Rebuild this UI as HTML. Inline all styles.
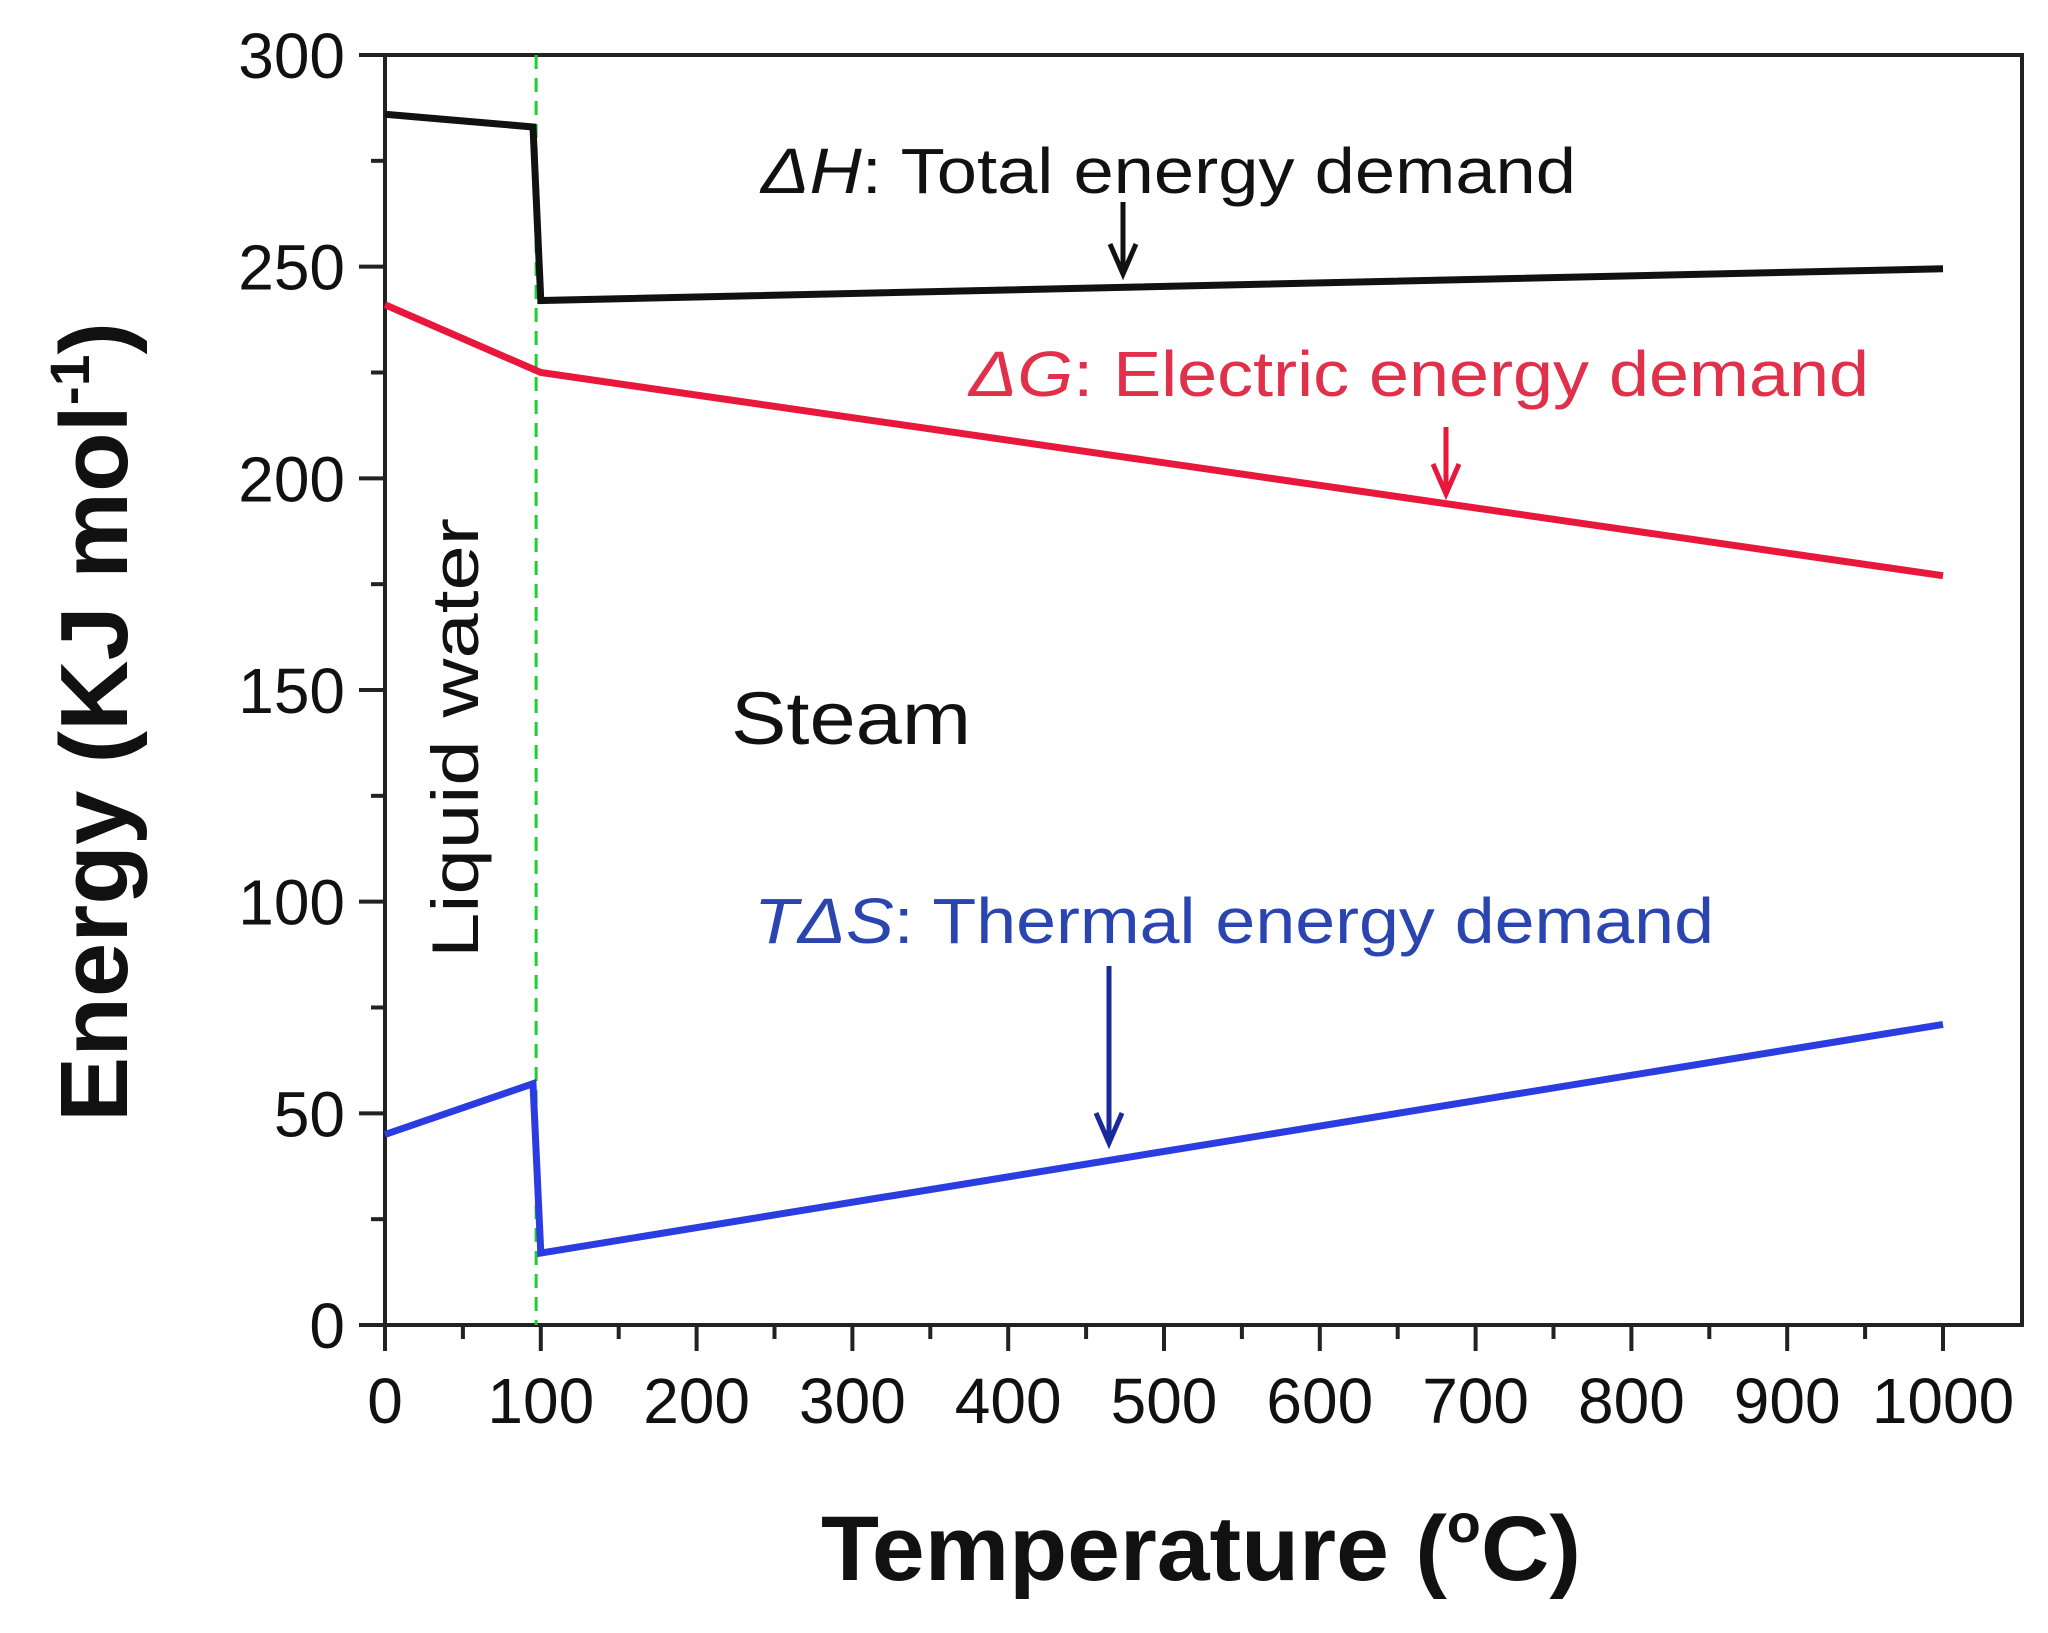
<!DOCTYPE html>
<html><head><meta charset="utf-8"><style>
html,body{margin:0;padding:0;background:#fff;}
svg{display:block;}
text{font-family:"Liberation Sans",sans-serif;}
</style></head><body>
<svg id="chart" width="2048" height="1633" viewBox="0 0 2048 1633" xmlns="http://www.w3.org/2000/svg">
<rect width="2048" height="1633" fill="#fff"/>
<g id="grid-layer"></g>
<text x="761" y="193" font-size="64" fill="#111" textLength="815" lengthAdjust="spacingAndGlyphs"><tspan font-style="italic">ΔH</tspan>: Total energy demand</text>
<text x="969" y="396" font-size="64" fill="#e0304a" textLength="900" lengthAdjust="spacingAndGlyphs"><tspan font-style="italic">ΔG</tspan>: Electric energy demand</text>
<text x="754" y="943" font-size="64" fill="#2a44b0" textLength="960" lengthAdjust="spacingAndGlyphs"><tspan font-style="italic">TΔS</tspan>: Thermal energy demand</text>
<text x="731" y="744" font-size="74" fill="#111" textLength="240" lengthAdjust="spacingAndGlyphs">Steam</text>
<text transform="translate(478,738) rotate(-90)" text-anchor="middle" font-size="66" fill="#111" textLength="440" lengthAdjust="spacingAndGlyphs">Liquid water</text>
<text transform="translate(127,722) rotate(-90)" text-anchor="middle" font-size="96" font-weight="bold" fill="#111" textLength="800" lengthAdjust="spacingAndGlyphs">Energy (KJ mol<tspan font-size="56" dy="-38">-1</tspan><tspan dy="38">)</tspan></text>
<text x="1201" y="1580" text-anchor="middle" font-size="92" font-weight="bold" fill="#111" textLength="760" lengthAdjust="spacingAndGlyphs">Temperature (<tspan font-size="54" dy="-38">o</tspan><tspan dy="38">C)</tspan></text>
</svg>
<script>
const xTicks = [0,100,200,300,400,500,600,700,800,900,1000];
const yTicks = [0,50,100,150,200,250,300];
const tempH = [0,95,100,1000];
const valH = [286,283,242,249.5];
const tempG = [0,100,1000];
const valG = [241,225,177];
const tempS = [0,95,100,1000];
const valS = [45,57,17,71];
const phaseBoundary = 97;

const L=385,R=2022,T=55,B=1325;
const x0=385,x1000=1943;
function sx(v){return x0+(x1000-x0)*v/1000;}
function sy(v){return B-(B-T)*v/300;}
const NS="http://www.w3.org/2000/svg";
const g=document.getElementById('grid-layer');
function mk(tag,attrs){const e=document.createElementNS(NS,tag);for(const k in attrs)e.setAttribute(k,attrs[k]);g.appendChild(e);return e;}

let fr=mk('rect',{x:L,y:T,width:R-L,height:B-T,fill:'none',stroke:'#222','stroke-width':4});



for(let v=0;v<=1000;v+=50){
  const major=v%100===0;
  const t=mk('line',{x1:sx(v),x2:sx(v),y1:B,y2:B+(major?26:14),stroke:'#222','stroke-width':4});
  
  
}
xTicks.forEach(v=>{
  const t=mk('text',{x:sx(v),y:1423,'text-anchor':'middle','font-size':64,fill:'#111'});
  t.textContent=v;
  
  
});
for(let v=0;v<=300;v+=25){
  const major=v%50===0;
  const t=mk('line',{x1:L,x2:L-(major?26:14),y1:sy(v),y2:sy(v),stroke:'#222','stroke-width':4});
  
  
}
yTicks.forEach(v=>{
  const t=mk('text',{x:345,y:sy(v)+23,'text-anchor':'end','font-size':64,fill:'#111'});
  t.textContent=v;
  
  
});
const pb=mk('line',{x1:sx(phaseBoundary),x2:sx(phaseBoundary),y1:T,y2:B,stroke:'#22cc33','stroke-width':3,'stroke-dasharray':'14,9'});



function series(xs,ys,color,name){
  const p=mk('polyline',{points:xs.map((x,i)=>sx(x)+','+sy(ys[i])).join(' '),fill:'none',stroke:color,'stroke-width':7,'stroke-linejoin':'miter'});
  
  
}
series(tempH,valH,'#111','total-energy-line');
series(tempG,valG,'#e8173c','electric-energy-line');
series(tempS,valS,'#2b3de0','thermal-energy-line');

function arrow(x,y1,y2,color,name){
  const a=mk('path',{d:`M${x},${y1} L${x},${y2} M${x-13},${y2-30} L${x},${y2} L${x+13},${y2-30}`,fill:'none',stroke:color,'stroke-width':5});
  
  
}
arrow(1123,202,274,'#111','total-energy-arrow');
arrow(1446,427,494,'#e8173c','electric-energy-arrow');
arrow(1109,966,1143,'#1a2a9a','thermal-energy-arrow');
</script>
</body></html>
